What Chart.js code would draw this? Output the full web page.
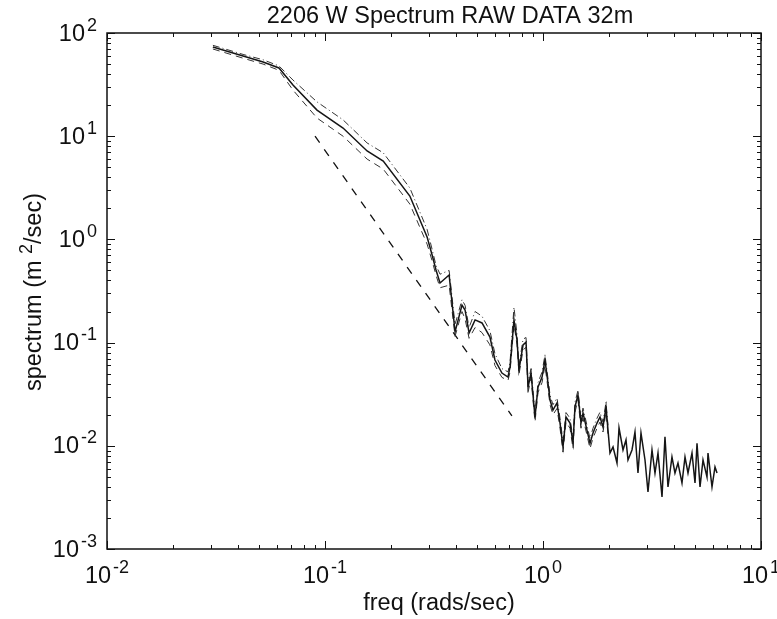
<!DOCTYPE html>
<html>
<head>
<meta charset="utf-8">
<title>2206 W Spectrum RAW DATA 32m</title>
<script src="https://cdn.jsdelivr.net/npm/chart.js"></script>
<style>
  html, body { margin: 0; padding: 0; background: #fff; }
  canvas { display: block; }
</style>
</head>
<body>
<canvas id="specChart" width="777" height="619"></canvas>
<script>
// frequencies (rads/sec)
const freq = [0.0306, 0.0421, 0.0520, 0.0615, 0.0713, 0.0919, 0.121, 0.156, 0.185, 0.245,
  0.294, 0.310, 0.323, 0.337, 0.371, 0.395, 0.425, 0.439, 0.458, 0.488,
  0.525, 0.571, 0.602, 0.648, 0.691, 0.706, 0.736, 0.760, 0.776, 0.810,
  0.836, 0.854, 0.881, 0.919, 0.949, 0.990, 1.021, 1.054, 1.077, 1.111,
  1.159, 1.197, 1.235, 1.275, 1.330, 1.373, 1.402, 1.447, 1.494, 1.526,
  1.591, 1.643, 1.696, 1.769, 1.826, 1.885, 1.945, 1.987, 2.029, 2.095,
  2.185, 2.232, 2.328, 2.403, 2.454, 2.560, 2.642, 2.727, 2.815, 2.937,
  3.031, 3.162, 3.264, 3.369, 3.515, 3.627, 3.744, 3.905, 4.031, 4.161,
  4.341, 4.481, 4.625, 4.825, 4.981, 5.087, 5.251, 5.420, 5.653, 5.713,
  5.960, 6.152, 6.284];

// spectrum (m^2/sec)
const spectrum = [73.2, 59.9, 52.4, 45.8, 31.3, 17.9, 12.0, 7.19, 5.75, 2.63,
  1.055, 0.706, 0.505, 0.378, 0.452, 0.127, 0.231, 0.207, 0.124, 0.166,
  0.155, 0.113, 0.0678, 0.0507, 0.0464, 0.058, 0.166, 0.106, 0.0543, 0.0948,
  0.101, 0.0371, 0.0507, 0.019, 0.0371, 0.0464, 0.0678, 0.0406, 0.0278, 0.0222,
  0.026, 0.0166, 0.00974, 0.019, 0.0166, 0.0106, 0.0238, 0.0311, 0.0166, 0.0208,
  0.0142, 0.0106, 0.0133, 0.0166, 0.019, 0.0152, 0.0238, 0.0142, 0.00852, 0.00974,
  0.00681, 0.0149, 0.00911, 0.0114, 0.00729, 0.00911, 0.0136, 0.00545, 0.0133, 0.00729,
  0.00357, 0.00911, 0.00545, 0.00852, 0.00319, 0.0122, 0.00399, 0.00779, 0.00545, 0.00681,
  0.00436, 0.00779, 0.00545, 0.00852, 0.00436, 0.0106, 0.00399, 0.00729, 0.00498, 0.00852,
  0.00399, 0.00623, 0.00545];

// confidence limits, only drawn up to about 2 rads/sec
const upperLimit = [76, 62, 55, 48, 35, 21.5, 14.4, 8.6, 6.9, 3.15,
  1.25, 0.80, 0.56, 0.46, 0.50, 0.15, 0.26, 0.23, 0.14, 0.20,
  0.18, 0.13, 0.078, 0.056, 0.052, 0.065, 0.22, 0.12, 0.060, 0.108,
  0.112, 0.041, 0.056, 0.021, 0.041, 0.052, 0.076, 0.045, 0.031, 0.025,
  0.029, 0.0185, 0.0110, 0.021, 0.0185, 0.0118, 0.0265, 0.0345, 0.0185, 0.0232,
  0.0158, 0.0118, 0.0148, 0.0185, 0.0212, 0.0170, 0.0265, 0.0158];
const lowerLimit = [70, 57, 50, 43.5, 28, 15, 10, 6.0, 4.8, 2.2,
  0.90, 0.62, 0.45, 0.34, 0.36, 0.115, 0.20, 0.17, 0.11, 0.14,
  0.125, 0.095, 0.060, 0.046, 0.043, 0.052, 0.15, 0.095, 0.049, 0.085,
  0.090, 0.033, 0.045, 0.017, 0.033, 0.041, 0.060, 0.036, 0.025, 0.020,
  0.023, 0.0148, 0.0087, 0.017, 0.0148, 0.0094, 0.0212, 0.0278, 0.0148, 0.0185,
  0.0127, 0.0094, 0.0119, 0.0148, 0.0170, 0.0136, 0.0212, 0.0127];

// straight reference slope (dashed)
const refFreq = [0.09, 0.72];
const refSpec = [10, 0.0195];

// axis decades (tick labels are 10^n)
const xDecades = [-2, -1, 0, 1];
const yDecades = [-3, -2, -1, 0, 1, 2];

const titleText = '2206 W Spectrum RAW DATA 32m';
const xTitle = 'freq (rads/sec)';

function pts(xs, ys) {
  return ys.map((y, i) => ({ x: xs[i], y: y }));
}

const FONT = "'Liberation Sans', Arial, Helvetica, sans-serif";
const BIG = '23.5px ' + FONT;
const SUP = '18px ' + FONT;

// draws "10" with a raised exponent; align = 'center' or 'right'
function drawPow(ctx, exp, x, baseline, align) {
  ctx.font = BIG;
  const wb = ctx.measureText('10').width;
  ctx.font = SUP;
  const e = String(exp);
  const we = ctx.measureText(e).width;
  const gap = 2;
  const total = wb + gap + we;
  let left = align === 'right' ? x - total : x - total / 2;
  ctx.textAlign = 'left';
  ctx.textBaseline = 'alphabetic';
  ctx.font = BIG;
  ctx.fillText('10', left, baseline);
  ctx.font = SUP;
  ctx.fillText(e, left + wb + gap, baseline - 10);
}

const axesPlugin = {
  id: 'matlabAxes',
  afterDraw(chart) {
    const ctx = chart.ctx;
    const a = chart.chartArea;
    const xs = chart.scales.x;
    const ys = chart.scales.y;
    ctx.save();
    ctx.strokeStyle = '#111';
    ctx.fillStyle = '#111';

    // box
    ctx.lineWidth = 1.5;
    ctx.strokeRect(a.left, a.top, a.right - a.left, a.bottom - a.top);

    // inward ticks
    ctx.lineWidth = 1;
    ctx.beginPath();
    xDecades.forEach(d => {
      for (let m = 1; m <= 9; m++) {
        const v = m * Math.pow(10, d);
        if (v < xs.min * 0.999 || v > xs.max * 1.001) continue;
        const px = Math.round(xs.getPixelForValue(v)) + 0.5;
        const len = m === 1 ? 8 : 4;
        ctx.moveTo(px, a.bottom); ctx.lineTo(px, a.bottom - len);
        ctx.moveTo(px, a.top); ctx.lineTo(px, a.top + len);
      }
    });
    yDecades.forEach(d => {
      for (let m = 1; m <= 9; m++) {
        const v = m * Math.pow(10, d);
        if (v < ys.min * 0.999 || v > ys.max * 1.001) continue;
        const py = Math.round(ys.getPixelForValue(v)) + 0.5;
        const len = m === 1 ? 8 : 4;
        ctx.moveTo(a.left, py); ctx.lineTo(a.left + len, py);
        ctx.moveTo(a.right, py); ctx.lineTo(a.right - len, py);
      }
    });
    ctx.stroke();

    // tick labels
    xDecades.forEach(d => {
      drawPow(ctx, d, xs.getPixelForValue(Math.pow(10, d)), a.bottom + 34, 'center');
    });
    yDecades.forEach(d => {
      drawPow(ctx, d, a.left - 10, ys.getPixelForValue(Math.pow(10, d)) + 7.5, 'right');
    });

    // title
    ctx.font = BIG;
    ctx.textAlign = 'center';
    ctx.textBaseline = 'alphabetic';
    ctx.fillText(titleText, 450, 23);

    // x axis title
    ctx.fillText(xTitle, 439, 610);

    // y axis title with superscript 2
    ctx.translate(41, 292);
    ctx.rotate(-Math.PI / 2);
    const p1 = 'spectrum (m ';
    const p2 = '2';
    const p3 = '/sec)';
    ctx.font = BIG;
    const w1 = ctx.measureText(p1).width;
    const w3 = ctx.measureText(p3).width;
    ctx.font = SUP;
    const w2 = ctx.measureText(p2).width;
    let sx = -(w1 + w2 + w3) / 2;
    ctx.textAlign = 'left';
    ctx.font = BIG;
    ctx.fillText(p1, sx, 0);
    ctx.font = SUP;
    ctx.fillText(p2, sx + w1, -9);
    ctx.font = BIG;
    ctx.fillText(p3, sx + w1 + w2, 0);

    ctx.restore();
  }
};

const ctxSpec = document.getElementById('specChart').getContext('2d');

new Chart(ctxSpec, {
  type: 'line',
  data: {
    datasets: [
      {
        label: 'spectrum',
        data: pts(freq, spectrum),
        borderColor: '#151515',
        borderWidth: 1.5,
        pointRadius: 0,
        tension: 0,
        fill: false
      },
      {
        label: 'upper',
        data: pts(freq, upperLimit),
        borderColor: '#333',
        borderWidth: 1,
        borderDash: [7, 3, 1, 3],
        pointRadius: 0,
        tension: 0,
        fill: false
      },
      {
        label: 'lower',
        data: pts(freq, lowerLimit),
        borderColor: '#333',
        borderWidth: 1,
        borderDash: [7, 5],
        pointRadius: 0,
        tension: 0,
        fill: false
      },
      {
        label: 'slope',
        data: pts(refFreq, refSpec),
        borderColor: '#111',
        borderWidth: 1.3,
        borderDash: [8, 8],
        pointRadius: 0,
        tension: 0,
        fill: false
      }
    ]
  },
  options: {
    responsive: false,
    devicePixelRatio: 1,
    animation: false,
    layout: { padding: { left: 107, right: 16, top: 33, bottom: 70 } },
    scales: {
      x: { type: 'logarithmic', min: 0.01, max: 10, display: false },
      y: { type: 'logarithmic', min: 0.001, max: 100, display: false }
    },
    plugins: {
      legend: { display: false },
      tooltip: { enabled: false },
      title: { display: false }
    }
  },
  plugins: [axesPlugin]
});
</script>
</body>
</html>
